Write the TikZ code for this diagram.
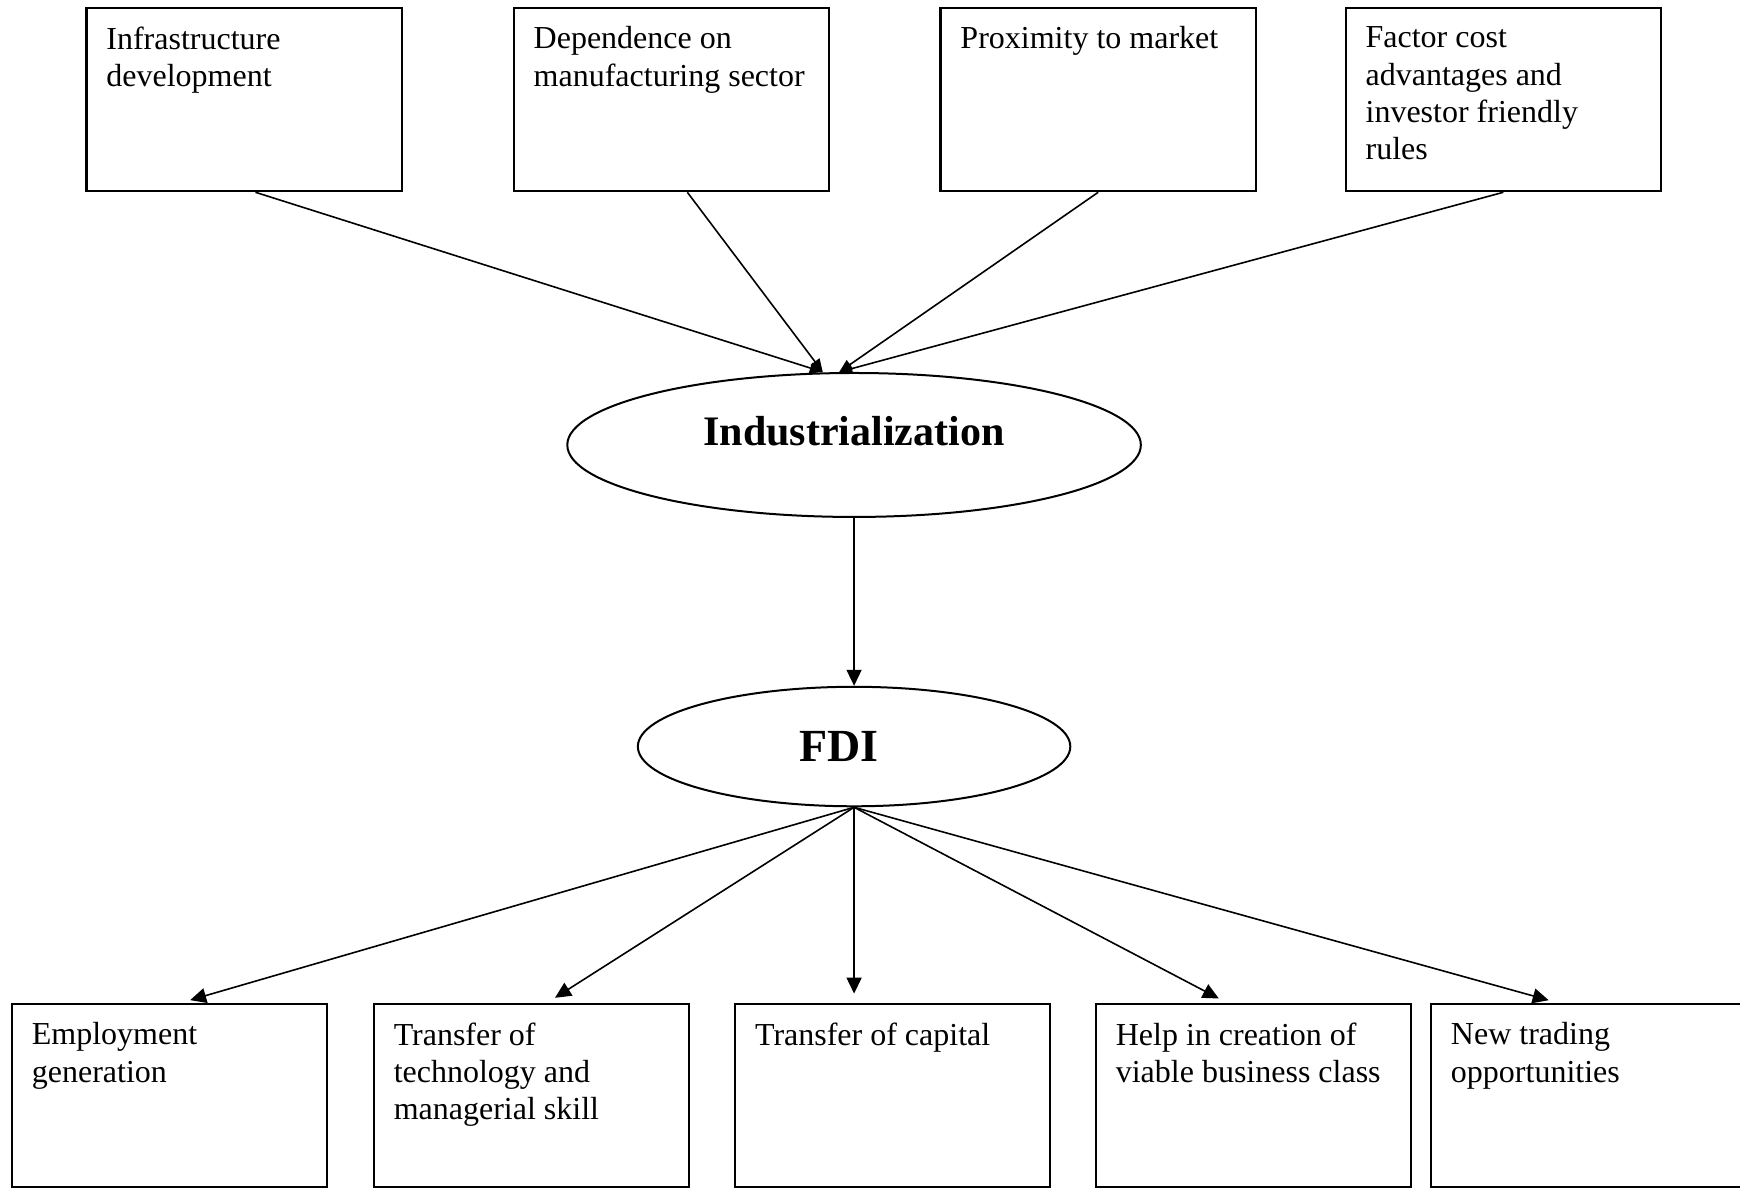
\documentclass[tikz,border=0pt]{standalone}
\usepackage{fontspec}
\setmainfont{Liberation Serif}
\usetikzlibrary{shapes.geometric,arrows.meta}

\newcommand{\boxtext}[1]{\parbox[c][2.56cm][t]{4.84cm}{\raggedright #1}}

\begin{document}
\begin{tikzpicture}[
    box/.style={draw=black, line width=1.1pt, inner xsep=0.35cm, inner ysep=0.33cm,
      font=\fontsize{16}{18.7}\selectfont},
    oval/.style={draw=black, ellipse, line width=1pt, inner sep=0pt},
    flow/.style={-{Triangle[length=8pt,width=7.5pt]}, line width=0.8pt},
    into/.style={-{Triangle[length=6.5pt,width=5.5pt]}, line width=0.8pt},
    fan/.style={flow, shorten >=4.5pt},
  ]
  \useasboundingbox (0,0) rectangle (30.58,-20.92);

  \node[box] (f1) at (4.29,-1.75)  {\boxtext{Infrastructure\\ development}};
  \node[box] (f2) at (11.80,-1.75) {\boxtext{Dependence on\\ manufacturing sector}};
  \node[box] (f3) at (19.30,-1.75) {\boxtext{Proximity to market}};
  \node[box] (f4) at (26.42,-1.75) {\boxtext{Factor cost\\ advantages and\\ investor friendly\\ rules}};

  \node[oval, minimum width=10.08cm, minimum height=2.53cm, text depth=0.48cm,
    font=\fontsize{21}{25}\selectfont\bfseries] (ind) at (15.01,-7.82) {Industrialization};
  \node[oval, minimum width=7.6cm, minimum height=2.1cm,
    font=\fontsize{23}{27}\selectfont\bfseries] (fdi) at (15.01,-13.12) {FDI\rule{0.54cm}{0pt}};

  \coordinate (inl) at ([xshift=-0.55cm]ind.north);
  \coordinate (inr) at ([xshift=-0.26cm]ind.north);
  \draw[into] ([xshift=0.2cm]f1.south) -- (inl);
  \draw[into] ([xshift=0.28cm]f2.south) -- (inl);
  \draw[into] (f3.south) -- (inr);
  \draw[into] (f4.south) -- (inr);

  \draw[flow] (ind.south) -- (fdi.north);

  \node[box] (e1) at (2.98,-19.25)  {\boxtext{Employment\\ generation}};
  \node[box] (e2) at (9.34,-19.25)  {\boxtext{Transfer of\\ technology and\\ managerial skill}};
  \node[box] (e3) at (15.69,-19.25) {\boxtext{Transfer of capital}};
  \node[box] (e4) at (22.03,-19.25) {\boxtext{Help in creation of\\ viable business class}};
  \node[box] (e5) at (27.92,-19.25) {\boxtext{New trading\\ opportunities}};

  \draw[fan] (fdi.south) -- ([xshift=0.21cm]e1.north);
  \draw[fan] (fdi.south) -- ([xshift=0.28cm]e2.north);
  \draw[fan] (fdi.south) -- (fdi.south |- e3.north);
  \draw[fan] (fdi.south) -- ([xshift=-0.47cm]e4.north);
  \draw[fan] (fdi.south) -- ([xshift=-0.55cm]e5.north);
\end{tikzpicture}
\end{document}
